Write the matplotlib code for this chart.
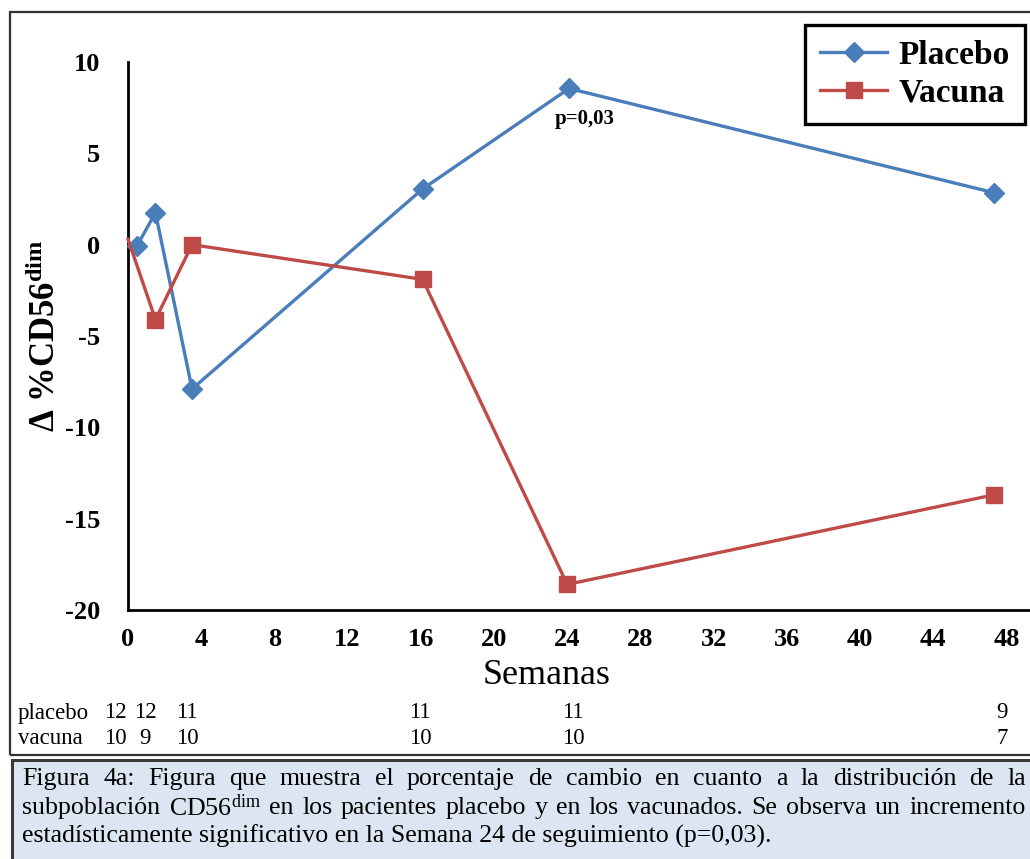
import matplotlib
matplotlib.use("Agg", force=True)

import matplotlib.pyplot as plt
from matplotlib.patches import Rectangle

plt.rcParams["font.family"] = ["Liberation Serif", "DejaVu Serif"]
plt.rcParams["mathtext.fontset"] = "custom"
plt.rcParams["mathtext.rm"] = "Liberation Serif"
plt.rcParams["mathtext.bf"] = "Liberation Serif:bold"
plt.rcParams["mathtext.it"] = "Liberation Serif:italic"
plt.rcParams["axes.unicode_minus"] = False

# data
placebo_weeks = [0.5, 1.5, 3.5, 16.1, 24.1, 47.3]
placebo_vals = [-0.05, 1.75, -7.9, 3.05, 8.55, 2.85]
vacuna_weeks = [0.0, 1.5, 3.5, 16.1, 24.0, 47.3]
vacuna_vals = [0.3, -4.1, 0.0, -1.9, -18.6, -13.7]

xticks = [0, 4, 8, 12, 16, 20, 24, 28, 32, 36, 40, 44, 48]
yticks = [-20, -15, -10, -5, 0, 5, 10]

placebo_n = [12, 12, 11, 11, 11, 9]
vacuna_n = [10, 9, 10, 10, 10, 7]
n_label_px = [115, 145, 187, 420, 573, 1002]  # horizontal centres in pixels

caption_lines = [
    "Figura 4a: Figura que muestra el porcentaje de cambio en cuanto a la distribución de la",
    "subpoblación CD56$^{\\mathrm{dim}}$ en los pacientes placebo y en los vacunados. Se observa un incremento",
    "estadísticamente significativo en la Semana 24 de seguimiento (p=0,03).",
]

W, H = 1030, 859
BLUE = "#4a7ebb"
RED = "#be4b48"

fig = plt.figure(figsize=(W / 100, H / 100), dpi=100)
fig.patch.set_facecolor("white")


def fx(px):
    return px / W


def fy(py):
    return 1 - py / H


# outer frame around chart + counts table
fig.add_artist(Rectangle((fx(10), fy(755)), fx(1040), (755 - 12) / H,
                         transform=fig.transFigure, fill=False,
                         edgecolor="#333333", lw=1.6, clip_on=False))
# caption box
fig.add_artist(Rectangle((fx(12), fy(880)), fx(1040), (880 - 760) / H,
                         transform=fig.transFigure, facecolor="#dce6f2",
                         edgecolor="#3a3a3a", lw=2.2, clip_on=False))

ax_left, ax_top, ax_bottom = 128, 62, 610
ax = fig.add_axes([fx(ax_left), fy(ax_bottom), fx(W - ax_left),
                   (ax_bottom - ax_top) / H])
ax.set_facecolor("none")

ax.plot(placebo_weeks, placebo_vals, color=BLUE, lw=2.4, marker="D",
        ms=10, label="Placebo", clip_on=False, zorder=3)
ax.plot(vacuna_weeks, vacuna_vals, color=RED, lw=2.4, marker="s",
        ms=11, markevery=list(range(1, len(vacuna_vals))), label="Vacuna",
        clip_on=False, zorder=3)

ax.annotate("p=0,03", xy=(placebo_weeks[4], placebo_vals[4]),
            xytext=(11, -22), textcoords="offset points", ha="center",
            va="center", fontsize=15, fontweight="bold")

px_per_week = 18.3
ax.set_xlim(0, (W - ax_left) / px_per_week)
ax.set_ylim(-20, 10)
ax.set_xticks(xticks)
ax.set_yticks(yticks)
ax.tick_params(length=0, labelsize=19)
ax.tick_params(axis="y", pad=20)
ax.tick_params(axis="x", pad=13)
for lab in ax.get_xticklabels() + ax.get_yticklabels():
    lab.set_fontweight("bold")

for side in ("top", "right"):
    ax.spines[side].set_visible(False)
for side in ("left", "bottom"):
    ax.spines[side].set_linewidth(2.0)
    ax.spines[side].set_color("black")

ax.set_xlabel("Semanas", fontsize=26)
ax.xaxis.set_label_coords((547 - ax_left) / (W - ax_left), -0.09)
ax.set_ylabel(r"$\mathbf{\Delta}$ %CD56$^{\mathbf{dim}}$", fontsize=25,
              fontweight="bold")
ax.yaxis.set_label_coords(-0.072, 0.5)

leg = ax.legend(loc="upper right", bbox_to_anchor=(fx(1025), fy(25)),
                bbox_transform=fig.transFigure, borderaxespad=0,
                fancybox=False, framealpha=1, edgecolor="black",
                borderpad=0.45, handlelength=2.0, handletextpad=0.35,
                labelspacing=0.2, prop={"size": 24, "weight": "bold"})
leg.get_frame().set_linewidth(2.4)

# sample sizes table
fig.text(fx(18), fy(713), "placebo", fontsize=16.5, va="center")
fig.text(fx(18), fy(738), "vacuna", fontsize=16.5, va="center")
for xp, a, b in zip(n_label_px, placebo_n, vacuna_n):
    fig.text(fx(xp), fy(713), str(a), fontsize=16.5, ha="center", va="center")
    fig.text(fx(xp), fy(738), str(b), fontsize=16.5, ha="center", va="center")

# caption, justified for the first two lines
renderer = fig.canvas.get_renderer()
line_y = [779, 808, 836]
cap_left, cap_right = 22, 1026
cap_size = 18.6
for i, (line, yp) in enumerate(zip(caption_lines, line_y)):
    if i == len(caption_lines) - 1:
        fig.text(fx(cap_left), fy(yp), line, fontsize=cap_size, va="center")
        continue
    words = line.split(" ")
    texts = [fig.text(0, fy(yp), w, fontsize=cap_size, va="center")
             for w in words]
    widths = [t.get_window_extent(renderer).width for t in texts]
    gap = (cap_right - cap_left - sum(widths)) / (len(words) - 1)
    x = cap_left
    for t, w in zip(texts, widths):
        t.set_x(fx(x))
        x += w + gap

fig.savefig("out.png", dpi=100)
plt.close(fig)
